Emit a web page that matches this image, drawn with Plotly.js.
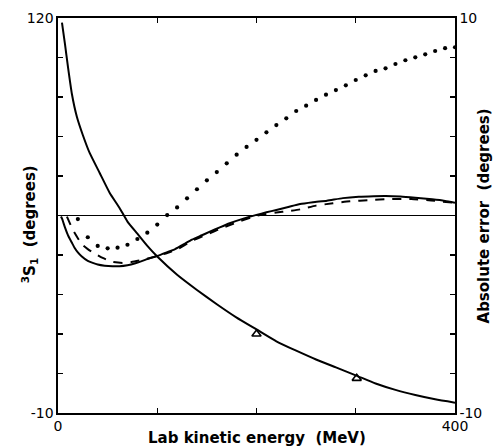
<!DOCTYPE html>
<html>
<head>
<meta charset="utf-8">
<script src="https://cdn.plot.ly/plotly-3.0.1.min.js"></script>
<style>html,body{margin:0;padding:0;background:#fff;}#chart{width:495px;height:447px;}</style>
</head>
<body>
<div id="chart"></div>
<script>
// 3S1 phase shift (left axis, degrees)
var phaseE   = [4, 7, 10, 14, 19, 25, 32, 42, 52, 62, 70, 80, 90, 100, 120, 140, 160, 180, 200, 220, 240, 260, 280, 300, 320, 340, 360, 380, 400];
var phaseDeg = [118.5, 111.5, 104, 95, 87.5, 81.5, 75.5, 69, 62.5, 57.5, 53, 49, 45, 41.5, 35.5, 30.5, 25.8, 21.4, 17.5, 13.6, 10.5, 7.6, 5, 2.4, -0.3, -2.4, -4.1, -5.5, -6.6];

// data points (triangles)
var triE   = [200, 301];
var triDeg = [16.0, 1.4];

// absolute error curves (right axis, degrees)
var errSolidE = [3, 4, 7, 10, 14, 17, 20, 24, 30, 35, 40, 47, 55, 62, 70, 78, 85, 90, 100, 110, 118, 128, 135, 145, 153, 163, 173, 186, 200, 210, 220, 232, 244, 257, 271, 287, 303, 318, 330, 345, 360, 377, 390, 400];
var errSolid  = [-0.05, -0.15, -0.6, -0.99, -1.38, -1.66, -1.87, -2.08, -2.3, -2.4, -2.48, -2.54, -2.57, -2.57, -2.52, -2.42, -2.3, -2.2, -2.05, -1.86, -1.7, -1.42, -1.22, -1.0, -0.82, -0.6, -0.39, -0.17, 0.03, 0.16, 0.28, 0.43, 0.58, 0.67, 0.75, 0.88, 0.95, 0.98, 0.99, 0.96, 0.9, 0.82, 0.74, 0.65];

var errDashE = [9, 12, 15, 20, 25, 30, 35, 45, 55, 65, 74, 85, 95, 110, 120, 135, 150, 165, 180, 195, 205, 220, 232, 244, 260, 277, 294, 314, 334, 356, 376, 398];
var errDash  = [-0.06, -0.4, -0.73, -1.15, -1.5, -1.7, -1.87, -2.15, -2.35, -2.4, -2.36, -2.25, -2.12, -1.9, -1.72, -1.28, -0.96, -0.64, -0.35, -0.09, 0.04, 0.15, 0.22, 0.31, 0.5, 0.62, 0.72, 0.78, 0.83, 0.84, 0.76, 0.65];

var errDotE = [20, 30, 40, 50, 60, 70, 80, 90, 100, 110, 120, 130, 140, 150, 160, 170, 180, 190, 200, 210, 220, 230, 240, 250, 260, 270, 280, 290, 300, 310, 320, 330, 340, 350, 360, 370, 380, 390, 400];
var errDot  = [-0.18, -1.10, -1.54, -1.66, -1.63, -1.48, -1.19, -0.87, -0.46, 0.02, 0.41, 0.87, 1.33, 1.78, 2.20, 2.64, 3.08, 3.47, 3.83, 4.21, 4.58, 4.92, 5.29, 5.56, 5.85, 6.12, 6.35, 6.59, 6.86, 7.10, 7.32, 7.45, 7.67, 7.86, 8.01, 8.16, 8.33, 8.47, 8.52];

// tick labels and unlabeled tick positions
var xTickVals = [0, 400];
var xTickText = ['0', '400'];
var xMinorVals = [100, 200, 300];
var yLeftTickVals = [-10, 120];
var yLeftTickText = ['-10', '120'];
var yLeftMinorVals = [3, 16, 29, 42, 55, 68, 81, 94, 107];
var yRightTickVals = [-10, 10];
var yRightTickText = ['-10', '10'];
var yRightMinorVals = [-8, -6, -4, -2, 0, 2, 4, 6, 8];

var tickFont = {family: 'DejaVu Sans', size: 14, color: '#000'};
var titleFont = {family: 'DejaVu Sans', size: 15, color: '#000', weight: 'bold'};

function minorTicks(vals) {
  return {tickmode: 'array', tickvals: vals, ticks: 'inside', ticklen: 5, tickwidth: 1.3, tickcolor: '#000', showgrid: false};
}

var traces = [
  {x: phaseE, y: phaseDeg, type: 'scatter', mode: 'lines', yaxis: 'y',
   line: {color: '#000', width: 2, shape: 'spline', smoothing: 0.5}, name: '3S1'},
  {x: triE, y: triDeg, type: 'scatter', mode: 'markers', yaxis: 'y',
   marker: {symbol: 'triangle-up-open', size: 8, color: '#000', line: {width: 1.6, color: '#000'}}, name: 'data'},
  {x: errSolidE, y: errSolid, type: 'scatter', mode: 'lines', yaxis: 'y2',
   line: {color: '#000', width: 2, shape: 'spline', smoothing: 0.5}, name: 'err solid'},
  {x: errDashE, y: errDash, type: 'scatter', mode: 'lines', yaxis: 'y2',
   line: {color: '#000', width: 2, dash: '9px,8px', shape: 'spline', smoothing: 0.5}, name: 'err dashed'},
  {x: errDotE, y: errDot, type: 'scatter', mode: 'markers', yaxis: 'y2',
   marker: {symbol: 'circle', size: 4.2, color: '#000'}, name: 'err dotted'}
];

var layout = {
  width: 495, height: 447,
  margin: {l: 58, r: 40, t: 18, b: 34},
  paper_bgcolor: '#fff', plot_bgcolor: '#fff',
  showlegend: false,
  xaxis: {
    range: [0, 400], tickmode: 'array', tickvals: xTickVals, ticktext: xTickText,
    ticks: 'inside', ticklen: 5, tickwidth: 1.3, tickcolor: '#000',
    minor: minorTicks(xMinorVals),
    showline: true, linecolor: '#000', linewidth: 1.6, mirror: 'ticks',
    showgrid: false, zeroline: false, tickfont: tickFont
  },
  yaxis: {
    range: [-10, 120], tickmode: 'array', tickvals: yLeftTickVals, ticktext: yLeftTickText,
    ticks: 'inside', ticklen: 5, tickwidth: 1.3, tickcolor: '#000',
    minor: minorTicks(yLeftMinorVals),
    showline: true, linecolor: '#000', linewidth: 1.6,
    showgrid: false, zeroline: false, tickfont: tickFont
  },
  yaxis2: {
    range: [-10, 10], tickmode: 'array', tickvals: yRightTickVals, ticktext: yRightTickText,
    overlaying: 'y', side: 'right',
    ticks: 'inside', ticklen: 5, tickwidth: 1.3, tickcolor: '#000',
    minor: minorTicks(yRightMinorVals),
    showline: true, linecolor: '#000', linewidth: 1.6,
    showgrid: false, zeroline: true, zerolinecolor: '#000', zerolinewidth: 1.4,
    tickfont: tickFont
  },
  annotations: [
    {text: 'Lab kinetic energy&nbsp;&nbsp;(MeV)', xref: 'paper', yref: 'paper',
     x: 0.501, y: -0.063, xanchor: 'center', yanchor: 'middle', showarrow: false, font: titleFont},
    {text: '<sup>3</sup>S<sub>1</sub>&nbsp;&nbsp;(degrees)', xref: 'paper', yref: 'paper',
     x: -0.073, y: 0.478, xanchor: 'center', yanchor: 'middle', textangle: -90, showarrow: false, font: titleFont},
    {text: 'Absolute error&nbsp;&nbsp;(degrees)', xref: 'paper', yref: 'paper',
     x: 1.073, y: 0.5, xanchor: 'center', yanchor: 'middle', textangle: -90, showarrow: false, font: titleFont}
  ]
};

Plotly.newPlot('chart', traces, layout, {staticPlot: true, displayModeBar: false});
</script>
</body>
</html>
